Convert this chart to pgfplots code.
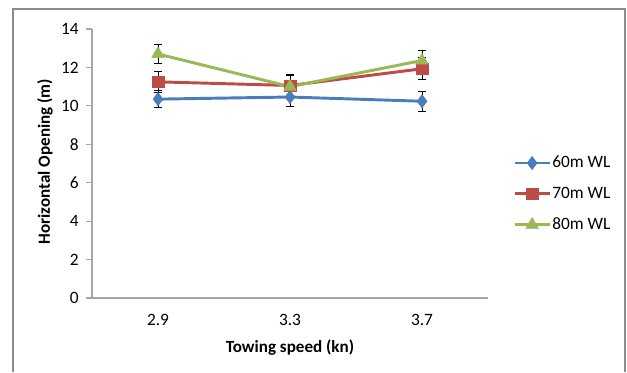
\documentclass[border=0pt]{standalone}
\usepackage{fontspec}
\setmainfont{Carlito}
\usepackage{pgfplots}
\usepackage{pgfplotstable}
\pgfplotsset{compat=1.18}
\definecolor{cblue}{HTML}{4A7EBB}
\definecolor{cred}{HTML}{BE4B48}
\definecolor{cgreen}{HTML}{98B954}
\definecolor{axgray}{HTML}{A6A6A6}
\definecolor{framegray}{HTML}{8C8C8C}
\pgfplotstableread{
x y e
0 10.35 0.45
1 10.46 0.50
2 10.24 0.50
}\blue
\pgfplotstableread{
x y e
0 11.25 0.55
1 11.06 0.57
2 11.93 0.57
}\red
\pgfplotstableread{
x y e
0 12.70 0.50
1 11.00 0.58
2 12.36 0.55
}\green
\begin{document}
\begin{tikzpicture}
\useasboundingbox (0,0) rectangle (470.25pt,279pt);
\draw[framegray, line width=1.1pt] (9.75pt,0pt) -- (9.75pt,272.25pt) -- (468.75pt,272.25pt) -- (468.75pt,0pt);
\begin{axis}[
  at={(69pt,55.5pt)}, anchor=south west,
  scale only axis, width=297pt, height=201.75pt,
  xmin=-0.5, xmax=2.5, ymin=0, ymax=14,
  axis lines=left, axis line style={axgray, line width=0.9pt, -},
  xtick={0,1,2}, xticklabels={2.9,3.3,3.7},
  ytick={0,2,...,14},
  x tick style={draw=none},
  y tick style={axgray, line width=0.8pt},
  tick align=outside, major tick length=4.5pt,
  /pgf/number format/assume math mode=true,
  tick label style={font=\fontsize{13pt}{15pt}\selectfont, black},
  xticklabel style={yshift=-4pt},
  yticklabel style={xshift=-2pt},
  xlabel={\textbf{Towing speed (kn)}},
  ylabel={\textbf{Horizontal Opening (m)}},
  label style={font=\fontsize{12.8pt}{15pt}\selectfont},
  xlabel style={at={(axis description cs:0.5,-0.186)}, anchor=center},
  ylabel style={at={(axis description cs:-0.119,0.507)}, anchor=center},
  legend style={at={(axis description cs:1.063,0.387)}, anchor=west, draw=none, fill=none,
    font=\fontsize{13pt}{15pt}\selectfont, row sep=11pt, inner sep=0pt,
    nodes={inner sep=1pt}},
  legend cell align=left,
  legend image post style={line width=2.2pt},
  legend image code/.code={%
    \draw[line width=2.2pt] (0cm,0cm) -- (0.92cm,0cm);
    \draw[line width=0.3pt] plot[only marks] coordinates {(0.46cm,0cm)};},
  error bars/error bar style={black, line width=0.5pt},
  error bars/error mark options={black, rotate=90, mark size=3pt, line width=0.5pt},
]
\addplot[cblue, line width=2.2pt, mark=diamond*, mark size=5pt, mark options={solid, line width=0.3pt},
  error bars/.cd, y dir=both, y explicit] table[x=x, y=y, y error=e] {\blue};
\addlegendentry{60m WL}
\addplot[cred, line width=2.2pt, mark=square*, mark size=4.3pt, mark options={solid, line width=0.3pt},
  error bars/.cd, y dir=both, y explicit] table[x=x, y=y, y error=e] {\red};
\addlegendentry{70m WL}
\addplot[cgreen, line width=2.2pt, mark=triangle*, mark size=5.5pt, mark options={solid, line width=0.3pt},
  error bars/.cd, y dir=both, y explicit] table[x=x, y=y, y error=e] {\green};
\addlegendentry{80m WL}
\end{axis}
\end{tikzpicture}
\end{document}
